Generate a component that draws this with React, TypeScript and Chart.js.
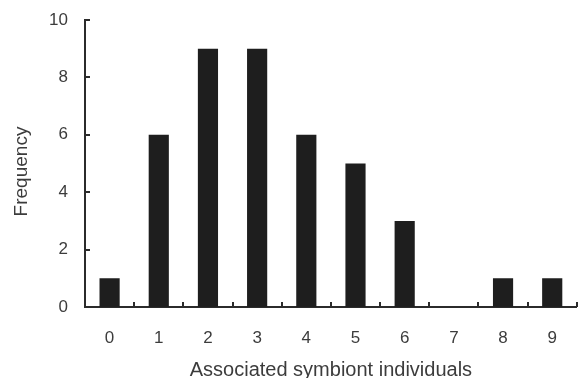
import React, { useEffect, useRef } from "react";
import { Chart, registerables } from "chart.js";

Chart.register(...registerables);

const categories = ["0", "1", "2", "3", "4", "5", "6", "7", "8", "9"];
const frequency = [1, 6, 9, 9, 6, 5, 3, 0, 1, 1];
const yTicks = [0, 2, 4, 6, 8, 10];
const xTitle = "Associated symbiont individuals";
const yTitle = "Frequency";

const AXIS = "#2b2b2b";
const TEXT = "#3c3c3c";
const FONT = "Liberation Sans, Arial, sans-serif";

const inwardTicks = {
  id: "inwardTicks",
  afterDatasetsDraw(chart: any) {
    const { ctx, scales } = chart;
    const x = scales.x;
    const y = scales.y;
    const len = 5;
    ctx.save();
    ctx.strokeStyle = AXIS;
    ctx.lineWidth = 2;
    ctx.beginPath();
    for (const v of yTicks) {
      const py = Math.round(y.getPixelForValue(v));
      ctx.moveTo(x.left, py);
      ctx.lineTo(x.left + len, py);
    }
    const half = (x.getPixelForValue(1) - x.getPixelForValue(0)) / 2;
    for (let i = 1; i <= categories.length; i++) {
      const px = Math.round(x.getPixelForValue(i) - half);
      ctx.moveTo(px, y.bottom);
      ctx.lineTo(px, y.bottom - len);
    }
    ctx.stroke();
    // y-axis title, centred slightly below the middle of the axis as in the reference
    ctx.fillStyle = TEXT;
    ctx.font = `19px ${FONT}`;
    ctx.textAlign = "center";
    ctx.textBaseline = "middle";
    ctx.translate(22, (y.top + y.bottom) / 2 + 8);
    ctx.rotate(-Math.PI / 2);
    ctx.fillText(yTitle, 0, 0);
    ctx.restore();
  },
};

export default function App() {
  const ref = useRef<HTMLCanvasElement>(null);
  useEffect(() => {
    document.body.style.margin = "0";
    const chart = new Chart(ref.current!, {
      type: "bar",
      data: {
        labels: categories,
        datasets: [
          {
            data: frequency,
            backgroundColor: "#1e1e1e",
            borderWidth: 0,
            barPercentage: 0.41,
            categoryPercentage: 1,
          },
        ],
      },
      options: {
        responsive: false,
        animation: false,
        layout: { padding: { top: 0, right: 1, left: 0, bottom: 0 } },
        plugins: { legend: { display: false }, tooltip: { enabled: false } },
        scales: {
          x: {
            afterFit: (s: any) => {
              s.height = 71;
            },
            grid: { display: false, drawTicks: false },
            border: { display: true, color: AXIS, width: 2 },
            ticks: { color: TEXT, font: { family: FONT, size: 17, lineHeight: 1 }, padding: 23 },
            title: {
              display: true,
              text: xTitle,
              color: TEXT,
              font: { family: FONT, size: 20, lineHeight: 1 },
              padding: { top: 0, bottom: -2 },
            },
          },
          y: {
            min: 0,
            max: 10,
            afterBuildTicks: (s: any) => {
              s.ticks = yTicks.map((v) => ({ value: v }));
            },
            afterFit: (s: any) => {
              s.width = 85;
              s.paddingTop = 20;
            },
            grid: { display: false, drawTicks: false },
            border: { display: true, color: AXIS, width: 2 },
            ticks: { color: TEXT, font: { family: FONT, size: 17, lineHeight: 1 }, padding: 17 },
            title: { display: false },
          },
        },
      },
      plugins: [inwardTicks],
    });
    return () => chart.destroy();
  }, []);
  return <canvas ref={ref} width={580} height={378} />;
}
